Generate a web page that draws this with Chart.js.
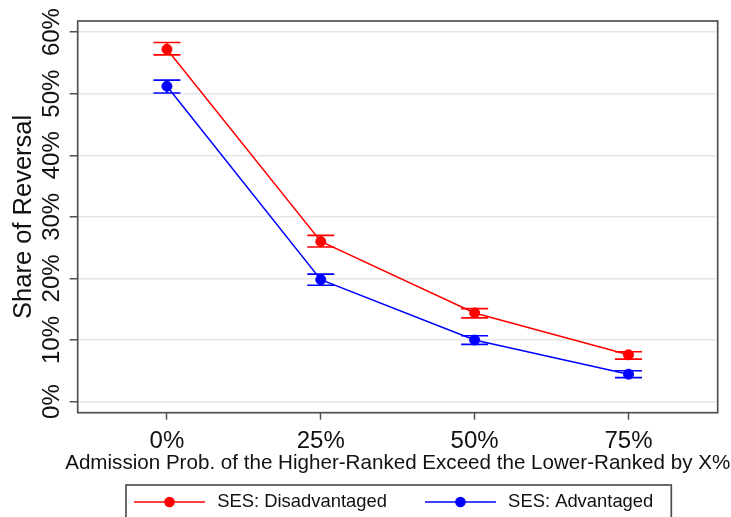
<!DOCTYPE html>
<html>
<head>
<meta charset="utf-8">
<script src="https://cdn.jsdelivr.net/npm/chart.js@4/dist/chart.umd.min.js"></script>
<style>
html,body{margin:0;padding:0;background:#fff;}
#wrap{width:731px;height:517px;position:relative;}
</style>
</head>
<body>
<div id="wrap"><canvas id="c"></canvas></div>
<script>
// ---- data ----
const categories = [0, 25, 50, 75];
const xTickLabels = ['0%', '25%', '50%', '75%'];
const yTicks = [0, 10, 20, 30, 40, 50, 60];
const seriesNames = ['SES: Disadvantaged', 'SES: Advantaged'];
const disadvMean = [57.2, 26.0, 14.4, 7.6];
const disadvLow  = [56.3, 25.1, 13.6, 6.9];
const disadvHigh = [58.3, 27.0, 15.1, 8.1];
const advMean = [51.2, 19.8, 10.0, 4.45];
const advLow  = [50.1, 18.9, 9.3, 3.9];
const advHigh = [52.2, 20.7, 10.7, 5.0];
const yTitle = 'Share of Reversal';
const xTitle = 'Admission Prob. of the Higher-Ranked Exceed the Lower-Ranked by X%';

// ---- style / layout ----
const FONT = "'Liberation Sans', Arial, Helvetica, sans-serif";
const COLORS = ['#ff0000', '#0000ff'];
const FRAME = '#505050';
const PLOT = {left: 77.7, top: 21, right: 717.7, bottom: 412.7};
const Y_LABEL_CENTER_X = 52.8;
const Y_TICK_LEN = 8, X_TICK_LEN = 7;
const LEGEND_START_X = 134, LEGEND_CENTER_Y = 502, LEGEND_BOX_TOP = 485;
const LEGEND_FONT = 18.4;
const XTITLE_CENTER_Y = 463;
const lows = [disadvLow, advLow], highs = [disadvHigh, advHigh];

// compute y tick padding so rotated labels are centred at Y_LABEL_CENTER_X
const mctx = document.createElement('canvas').getContext('2d');
mctx.font = "24px " + FONT;
const widestY = Math.max(...yTicks.map(v => mctx.measureText(v + '%').width));
const yTickPad = PLOT.left - Y_TICK_LEN - Y_LABEL_CENTER_X - widestY / 2;

function sampleImage(color) {
  const c = document.createElement('canvas');
  c.width = 74; c.height = 14;
  const g = c.getContext('2d');
  g.strokeStyle = color; g.lineWidth = 1.5;
  g.beginPath(); g.moveTo(0, 7); g.lineTo(71, 7); g.stroke();
  g.fillStyle = color;
  g.beginPath(); g.arc(35.5, 7, 5.3, 0, Math.PI * 2); g.fill();
  return c;
}
const legendImgs = COLORS.map(sampleImage);

const errorBars = {
  id: 'errorBars',
  beforeDatasetsDraw(chart) {
    const {ctx, scales: {x, y}} = chart;
    ctx.save();
    chart.data.datasets.forEach((ds, di) => {
      ctx.strokeStyle = COLORS[di];
      ctx.lineWidth = 1.6;
      categories.forEach((cv, i) => {
        const px = x.getPixelForValue(cv);
        const pl = y.getPixelForValue(lows[di][i]);
        const ph = y.getPixelForValue(highs[di][i]);
        ctx.beginPath();
        ctx.moveTo(px, pl); ctx.lineTo(px, ph);
        ctx.moveTo(px - 13.5, pl); ctx.lineTo(px + 13.5, pl);
        ctx.moveTo(px - 13.5, ph); ctx.lineTo(px + 13.5, ph);
        ctx.stroke();
      });
    });
    ctx.restore();
  }
};

const framePlugin = {
  id: 'frame',
  afterLayout(chart) {
    const lg = chart.legend;
    const pad = lg.options.labels.padding;
    const cursorX = (lg.left + pad + lg.right - lg.lineWidths[0]) / 2;
    const dx = LEGEND_START_X - cursorX;
    lg.left += dx; lg.right += dx;
    lg.top = LEGEND_CENTER_Y - pad - LEGEND_FONT / 2;
    lg.bottom = chart.height + 20;

    const tb = chart.titleBlock;
    const w = tb.right - tb.left;
    const cx = (PLOT.left + PLOT.right) / 2;
    tb.left = cx - w / 2; tb.right = tb.left + w;
    const th = tb.height;
    const lh = 20.6 * 1.2;
    tb.top = XTITLE_CENTER_Y - lh / 2;
    tb.bottom = tb.top + th;
  },
  afterDraw(chart) {
    const {ctx, chartArea: a} = chart;
    ctx.save();
    ctx.strokeStyle = FRAME;
    ctx.lineWidth = 1.7;
    ctx.strokeRect(a.left, a.top, a.right - a.left, a.bottom - a.top);
    const lg = chart.legend;
    const pad = lg.options.labels.padding;
    const startX = (lg.left + pad + lg.right - lg.lineWidths[0]) / 2;
    const endX = startX + lg.lineWidths[0] - pad;
    ctx.strokeRect(startX - 8, LEGEND_BOX_TOP, endX + 18 - (startX - 8), chart.height + 10 - LEGEND_BOX_TOP);
    ctx.restore();
  }
};

function makeDataset(i, mean) {
  return {
    label: seriesNames[i],
    data: categories.map((cv, k) => ({x: cv, y: mean[k]})),
    borderColor: COLORS[i],
    backgroundColor: COLORS[i],
    borderWidth: 1.5,
    pointRadius: 5,
    pointBorderWidth: 1,
    pointHoverRadius: 5,
    tension: 0,
    fill: false
  };
}

new Chart(document.getElementById('c'), {
  type: 'line',
  data: { datasets: [makeDataset(0, disadvMean), makeDataset(1, advMean)] },
  plugins: [errorBars, framePlugin],
  options: {
    responsive: true,
    maintainAspectRatio: false,
    animation: false,
    events: [],
    layout: { padding: { left: 0, top: PLOT.top, right: 731 - PLOT.right, bottom: 0 } },
    scales: {
      x: {
        type: 'linear',
        min: -14.5, max: 89.5,
        afterBuildTicks: s => { s.ticks = categories.map(v => ({value: v})); },
        afterFit: s => {
          const ch = s.chart;
          s.height = ch.height - PLOT.bottom - ch.legend.height - ch.titleBlock.height;
        },
        border: { display: false },
        grid: { drawOnChartArea: false, drawTicks: true, tickLength: X_TICK_LEN, tickColor: FRAME, tickWidth: 1.5 },
        ticks: {
          padding: 7.6,
          color: '#111',
          font: { family: FONT, size: 24 },
          maxRotation: 0, minRotation: 0,
          callback: v => { const k = categories.indexOf(v); return k >= 0 ? xTickLabels[k] : ''; }
        },
        title: { display: false }
      },
      y: {
        type: 'linear',
        min: -1.8, max: 61.8,
        afterBuildTicks: s => { s.ticks = yTicks.map(v => ({value: v})); },
        afterFit: s => { s.width = PLOT.left; },
        border: { display: false },
        grid: { color: '#e6e6e6', lineWidth: 1.5, drawTicks: true, tickLength: Y_TICK_LEN, tickColor: FRAME, tickWidth: 1.5 },
        ticks: {
          minRotation: 90, maxRotation: 90,
          crossAlign: 'center',
          padding: yTickPad,
          color: '#111',
          font: { family: FONT, size: 24 },
          callback: v => v + '%'
        },
        title: {
          display: true,
          text: yTitle,
          color: '#111',
          font: { family: FONT, size: 25.5 },
          padding: { top: 8.9, bottom: 0 }
        }
      }
    },
    plugins: {
      tooltip: { enabled: false },
      title: {
        display: true,
        position: 'bottom',
        text: xTitle,
        color: '#111',
        font: { family: FONT, size: 20.6, weight: 'normal' },
        padding: { top: 0, bottom: 0 }
      },
      legend: {
        display: true,
        position: 'bottom',
        maxHeight: 32,
        labels: {
          usePointStyle: true,
          pointStyleWidth: 74,
          padding: 38,
          color: '#111',
          font: { family: FONT, size: LEGEND_FONT },
          generateLabels(chart) {
            const items = Chart.defaults.plugins.legend.labels.generateLabels(chart);
            items.forEach((it, i) => { it.pointStyle = legendImgs[i]; });
            return items;
          }
        }
      }
    }
  }
});
</script>
</body>
</html>
